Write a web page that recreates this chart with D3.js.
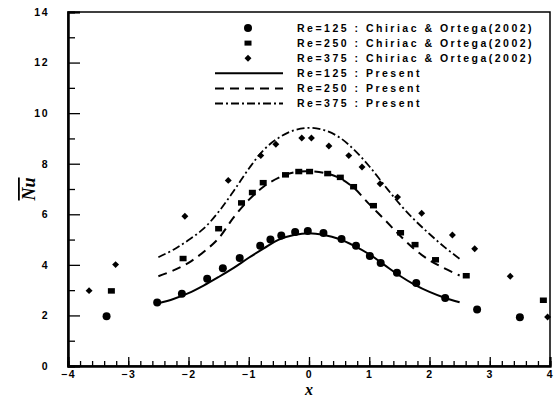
<!DOCTYPE html>
<html>
<head>
<meta charset="utf-8">
<script src="https://cdn.jsdelivr.net/npm/d3@7"></script>
<style>
  body { margin: 0; background: #fff; }
  svg { display: block; }
  .tick-label { font-family: "Liberation Sans", Arial, sans-serif; font-weight: bold; font-size: 10.5px; letter-spacing: 1.5px; }
  .legend-text { font-family: "Liberation Sans", Arial, sans-serif; font-weight: bold; font-size: 10.5px; letter-spacing: 2.5px; }
</style>
</head>
<body>
<svg></svg>
<script>
// Chiriac & Ortega (2002) points
var re125X = [-3.36, -2.52, -2.11, -1.69, -1.43, -1.15, -0.81, -0.64, -0.46, -0.23, -0.02, 0.24, 0.54, 0.78, 1.01, 1.19, 1.46, 1.78, 2.26, 2.79, 3.50];
var re125Y = [1.97, 2.51, 2.86, 3.45, 3.87, 4.27, 4.76, 5.00, 5.16, 5.30, 5.34, 5.26, 5.02, 4.76, 4.35, 4.07, 3.69, 3.28, 2.69, 2.23, 1.93];

var re250X = [-3.28, -2.09, -1.50, -1.12, -0.94, -0.76, -0.39, -0.17, 0.01, 0.31, 0.52, 0.74, 1.07, 1.52, 1.76, 2.10, 2.61, 3.89];
var re250Y = [2.97, 4.25, 5.43, 6.45, 6.86, 7.25, 7.56, 7.69, 7.69, 7.61, 7.46, 7.09, 6.34, 5.27, 4.80, 4.20, 3.57, 2.60];

var re375X = [-3.65, -3.21, -2.06, -1.34, -0.80, -0.55, -0.12, 0.04, 0.33, 0.66, 0.88, 1.18, 1.47, 1.87, 2.38, 2.75, 3.34, 3.96];
var re375Y = [2.98, 4.01, 5.92, 7.34, 8.32, 8.77, 9.02, 9.02, 8.70, 8.32, 7.87, 7.21, 6.68, 6.04, 5.18, 4.64, 3.55, 1.94];

// Present results (curves)
var curveX = [-2.5, -2.25, -2.0, -1.75, -1.5, -1.25, -1.0, -0.75, -0.5, -0.25, 0, 0.25, 0.5, 0.75, 1.0, 1.25, 1.5, 1.75, 2.0, 2.25, 2.5];
var present125 = [2.48, 2.65, 2.88, 3.18, 3.52, 3.88, 4.28, 4.65, 5.00, 5.18, 5.25, 5.18, 5.02, 4.75, 4.42, 4.00, 3.58, 3.22, 2.93, 2.70, 2.52];
var present250 = [3.55, 3.78, 4.08, 4.51, 5.05, 5.88, 6.57, 7.10, 7.45, 7.66, 7.70, 7.64, 7.44, 7.03, 6.40, 5.80, 5.18, 4.62, 4.18, 3.86, 3.58];
var present375 = [4.30, 4.60, 4.98, 5.43, 6.10, 6.92, 7.80, 8.55, 9.03, 9.32, 9.42, 9.33, 9.05, 8.55, 7.90, 7.15, 6.42, 5.78, 5.22, 4.70, 4.24];

var xTicks = [-4, -3, -2, -1, 0, 1, 2, 3, 4];
var yTicks = [0, 2, 4, 6, 8, 10, 12, 14];

var legendLabels = [
  "Re=125 : Chiriac & Ortega(2002)",
  "Re=250 : Chiriac & Ortega(2002)",
  "Re=375 : Chiriac & Ortega(2002)",
  "Re=125 : Present",
  "Re=250 : Present",
  "Re=375 : Present"
];

var svgWidth = 556, svgHeight = 399;
var margin = { top: 12, right: 6, bottom: 33, left: 68 };
var width = svgWidth - margin.left - margin.right;
var height = svgHeight - margin.top - margin.bottom;

var svg = d3.select('svg')
    .attr('width', svgWidth)
    .attr('height', svgHeight);

var g = svg.append('g')
    .attr('transform', 'translate(' + margin.left + ',' + margin.top + ')');

var x = d3.scaleLinear().domain([-4, 4]).range([0, width]);
var y = d3.scaleLinear().domain([0, 14]).range([height, 0]);

// frame
g.append('rect')
    .attr('width', width)
    .attr('height', height)
    .attr('fill', 'none')
    .attr('stroke', '#000')
    .attr('stroke-width', 1.5);

// bottom axis: inward ticks, minor every 0.2
var xAxisMinor = d3.axisBottom(x).tickValues(d3.range(-40, 41, 2).map(function(d) { return d / 10; }))
    .tickSize(-5).tickFormat('');
var xAxis = d3.axisBottom(x).tickValues(xTicks).tickSize(-9).tickFormat(d3.format('d'));

var gxm = g.append('g').attr('transform', 'translate(0,' + height + ')').call(xAxisMinor);
var gx = g.append('g').attr('transform', 'translate(0,' + height + ')').call(xAxis);

var yAxisMinor = d3.axisLeft(y).tickValues(d3.range(1, 14, 2)).tickSize(-7).tickFormat('');
var yAxis = d3.axisLeft(y).tickValues(yTicks).tickSize(-12).tickPadding(19);

var gym = g.append('g').call(yAxisMinor);
var gy = g.append('g').call(yAxis);

[gxm, gx, gym, gy].forEach(function(a) {
  a.select('.domain').attr('stroke-width', 2);
  a.selectAll('.tick line').attr('stroke-width', 1.3);
});
gx.selectAll('.tick text').attr('class', 'tick-label').attr('y', 8).attr('dy', '0.36em');
gy.selectAll('.tick text').attr('class', 'tick-label').attr('text-anchor', 'end');

// axis titles
svg.append('text')
    .attr('x', margin.left + x(0))
    .attr('y', 395)
    .attr('text-anchor', 'middle')
    .style('font-family', '"Liberation Serif", "Times New Roman", serif')
    .style('font-style', 'italic')
    .style('font-weight', 'bold')
    .style('font-size', '16px')
    .text('x');

svg.append('text')
    .attr('transform', 'translate(35,' + (margin.top + y(7)) + ') rotate(-90)')
    .attr('text-anchor', 'middle')
    .style('font-family', '"Liberation Serif", "Times New Roman", serif')
    .style('font-style', 'italic')
    .style('font-weight', 'bold')
    .style('font-size', '18px')
    .style('text-decoration', 'overline')
    .text('Nu');

// curves
function zipXY(xs, ys) { return xs.map(function(v, i) { return { x: v, y: ys[i] }; }); }

var line = d3.line()
    .x(function(d) { return x(d.x); })
    .y(function(d) { return y(d.y); })
    .curve(d3.curveCatmullRom);

var lineStyles = [
  { data: present125, dash: null, w: 2 },
  { data: present250, dash: '9,6', w: 2 },
  { data: present375, dash: '8,3,2,3', w: 1.8 }
];

lineStyles.forEach(function(s) {
  g.append('path')
      .datum(zipXY(curveX, s.data))
      .attr('fill', 'none')
      .attr('stroke', '#000')
      .attr('stroke-width', s.w)
      .attr('stroke-dasharray', s.dash)
      .attr('d', line);
});

// markers
g.selectAll('circle.m125')
    .data(zipXY(re125X, re125Y))
    .enter().append('circle')
    .attr('class', 'm125')
    .attr('cx', function(d) { return x(d.x); })
    .attr('cy', function(d) { return y(d.y); })
    .attr('r', 4)
    .attr('fill', '#000');

g.selectAll('rect.m250')
    .data(zipXY(re250X, re250Y))
    .enter().append('rect')
    .attr('class', 'm250')
    .attr('x', function(d) { return x(d.x) - 3.5; })
    .attr('y', function(d) { return y(d.y) - 2.75; })
    .attr('width', 7)
    .attr('height', 5.5)
    .attr('fill', '#000');

var diamond = d3.symbol().type(d3.symbolSquare).size(24);
g.selectAll('path.m375')
    .data(zipXY(re375X, re375Y))
    .enter().append('path')
    .attr('class', 'm375')
    .attr('d', diamond)
    .attr('transform', function(d) { return 'translate(' + x(d.x) + ',' + y(d.y) + ') rotate(45)'; })
    .attr('fill', '#000');

// legend
var legend = svg.append('g').attr('transform', 'translate(215,28)');
var rowH = 15.1;

legend.selectAll('text')
    .data(legendLabels)
    .enter().append('text')
    .attr('class', 'legend-text')
    .attr('x', 82)
    .attr('y', function(d, i) { return i * rowH; })
    .attr('dy', '0.36em')
    .text(function(d) { return d; });

legend.append('circle').attr('cx', 33).attr('cy', 0).attr('r', 4).attr('fill', '#000');
legend.append('rect').attr('x', 29.5).attr('y', rowH - 2.5).attr('width', 7).attr('height', 5).attr('fill', '#000');
legend.append('path').attr('d', diamond)
    .attr('transform', 'translate(33,' + (2 * rowH) + ') rotate(45)').attr('fill', '#000');

lineStyles.forEach(function(s, i) {
  legend.append('line')
      .attr('x1', 0).attr('x2', 68)
      .attr('y1', (3 + i) * rowH).attr('y2', (3 + i) * rowH)
      .attr('stroke', '#000')
      .attr('stroke-width', s.w)
      .attr('stroke-dasharray', s.dash);
});
</script>
</body>
</html>
